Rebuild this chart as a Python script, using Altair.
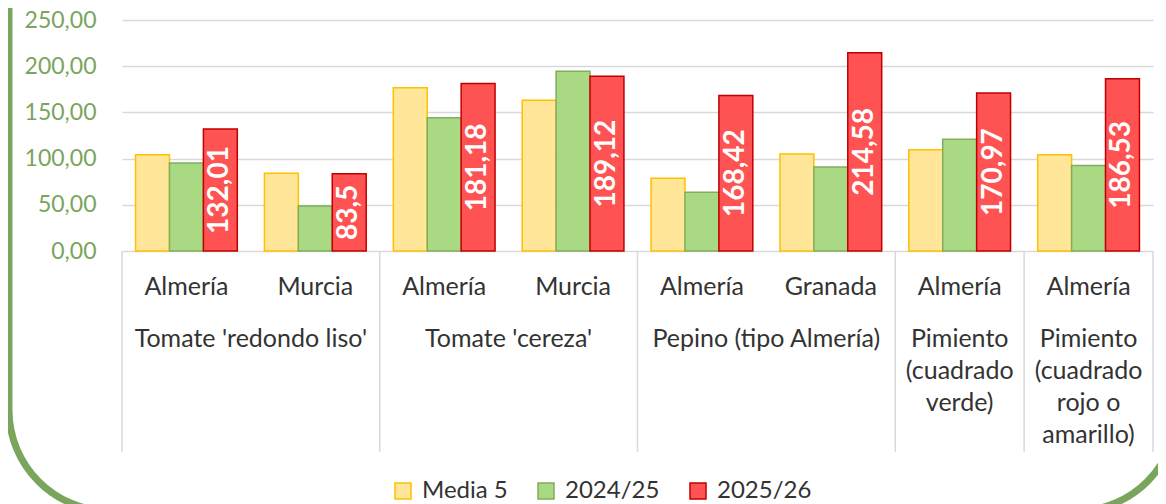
import altair as alt
import pandas as pd

# ---- data ----
products = ["Tomate 'redondo liso'", "Tomate 'redondo liso'", "Tomate 'cereza'", "Tomate 'cereza'",
            "Pepino (tipo Almería)", "Pepino (tipo Almería)",
            "Pimiento (cuadrado verde)", "Pimiento (cuadrado rojo o amarillo)"]
provinces = ["Almería", "Murcia", "Almería", "Murcia", "Almería", "Granada", "Almería", "Almería"]
media5 = [104.3, 84.1, 176.8, 163.1, 78.7, 105.0, 109.7, 104.3]
y2425 = [95.2, 48.7, 144.3, 194.5, 63.5, 90.9, 120.9, 92.4]
y2526 = [132.01, 83.51, 181.18, 189.12, 168.42, 214.58, 170.97, 186.53]
series = ["Media 5", "2024/25", "2025/26"]
group_names = ["Tomate 'redondo liso'", "Tomate 'cereza'", "Pepino (tipo Almería)",
               "Pimiento\n(cuadrado\nverde)", "Pimiento\n(cuadrado\nrojo o\namarillo)"]
group_first = [0, 2, 4, 6, 7]
group_size = [2, 2, 2, 1, 1]
y_ticks = [0, 50, 100, 150, 200, 250]

fills = ["#ffe699", "#a9da83", "#ff5252"]
strokes = ["#ffc000", "#80ad5f", "#c00000"]
FONT = "Lato"
TXT = "#333333"
GREEN = "#7aa55c"

keys = [f"k{i}" for i in range(len(provinces))]

rows = []
for i, k in enumerate(keys):
    for s, vals in zip(series, [media5, y2425, y2526]):
        v = vals[i]
        rows.append({"key": k, "province": provinces[i], "series": s, "value": v,
                     "mid": v / 2, "label": f"{v:.2f}".replace(".", ",")})
df = pd.DataFrame(rows)

cat_df = pd.DataFrame({"key": keys, "province": provinces})
grp_df = pd.DataFrame({"key": [keys[i] for i in group_first], "name": group_names, "size": group_size})
sep_df = pd.DataFrame({"key": [keys[i] for i in group_first]})
end_df = pd.DataFrame({"key": [keys[-1]]})

xscale = alt.Scale(domain=keys, paddingInner=0, paddingOuter=0)
xoff = alt.XOffset("series:N", scale=alt.Scale(domain=series, paddingInner=0, paddingOuter=0.4))
yscale = alt.Scale(domain=[0, 250], nice=False)
yaxis = alt.Axis(values=y_ticks, labelExpr="replace(format(datum.value, '.2f'), '.', ',')",
                 domain=False, ticks=False, labelPadding=26, labelFont=FONT,
                 labelFontSize=23, labelColor=GREEN, grid=True, gridColor="#d9d9d9", gridWidth=1.5)

legend = alt.Legend(orient="none", legendX=269, legendY=459, direction="horizontal", title=None,
                    symbolType="square", symbolSize=256, symbolStrokeWidth=1.5,
                    labelFont=FONT, labelFontSize=24, labelColor=TXT, labelOffset=7,
                    columnPadding=26, padding=0)

bars = alt.Chart(df).mark_bar(strokeWidth=1.5).encode(
    x=alt.X("key:N", scale=xscale, axis=None),
    xOffset=xoff,
    y=alt.Y("value:Q", scale=yscale, title=None, axis=yaxis),
    color=alt.Color("series:N", scale=alt.Scale(domain=series, range=fills), legend=legend),
    stroke=alt.Stroke("series:N", scale=alt.Scale(domain=series, range=strokes), legend=legend),
)

red = alt.Chart(df).transform_filter(alt.datum.series == "2025/26")
lab_big = red.transform_filter(alt.datum.value >= 100).mark_text(
    angle=270, color="white", font=FONT, fontWeight="bold", fontSize=28,
    align="center", baseline="middle").encode(
    x=alt.X("key:N", scale=xscale, axis=None), xOffset=xoff,
    y=alt.Y("mid:Q", scale=yscale, title=None, axis=yaxis), text="label:N")
lab_small = red.transform_filter(alt.datum.value < 100).mark_text(
    angle=270, color="white", font=FONT, fontWeight="bold", fontSize=28,
    align="center", baseline="middle", limit=66, ellipsis="\u200b").encode(
    x=alt.X("key:N", scale=xscale, axis=None), xOffset=xoff,
    y=alt.Y("mid:Q", scale=yscale, title=None, axis=yaxis), text="label:N")

cats = alt.Chart(cat_df).mark_text(font=FONT, fontSize=25, color=TXT, baseline="alphabetic").encode(
    x=alt.X("key:N", scale=xscale, axis=None), y=alt.value(275), text="province:N")

grp2 = alt.Chart(grp_df).transform_filter(alt.datum.size == 2).mark_text(
    font=FONT, fontSize=25, color=TXT, baseline="alphabetic", lineBreak="\n", lineHeight=32).encode(
    x=alt.X("key:N", scale=xscale, axis=None, bandPosition=1), y=alt.value(327), text="name:N")
grp1 = alt.Chart(grp_df).transform_filter(alt.datum.size == 1).mark_text(
    font=FONT, fontSize=25, color=TXT, baseline="alphabetic", lineBreak="\n", lineHeight=32).encode(
    x=alt.X("key:N", scale=xscale, axis=None, bandPosition=0.5), y=alt.value(327), text="name:N")

seps = alt.Chart(sep_df).mark_rule(color="#d9d9d9", strokeWidth=1.5).encode(
    x=alt.X("key:N", scale=xscale, axis=None, bandPosition=0), y=alt.value(231), y2=alt.value(432))
sep_end = alt.Chart(end_df).mark_rule(color="#d9d9d9", strokeWidth=1.5).encode(
    x=alt.X("key:N", scale=xscale, axis=None, bandPosition=1), y=alt.value(231), y2=alt.value(432))

frame = alt.Chart(pd.DataFrame({"a": [0]})).mark_rect(
    cornerRadius=101, fillOpacity=0, stroke=GREEN, strokeWidth=7).encode(
    x=alt.value(-113), x2=alt.value(1055), y=alt.value(-200), y2=alt.value(491))

chart = alt.layer(bars, frame, seps, sep_end, lab_big, lab_small, cats, grp2, grp1).properties(
    width=1031, height=231,
    autosize=alt.AutoSizeParams(type="none"),
    padding={"left": 114, "top": 12, "right": 5, "bottom": 253},
).configure(font=FONT).configure_view(stroke=None)

chart.save("out.html", embed_options={"renderer": "svg", "actions": False})
